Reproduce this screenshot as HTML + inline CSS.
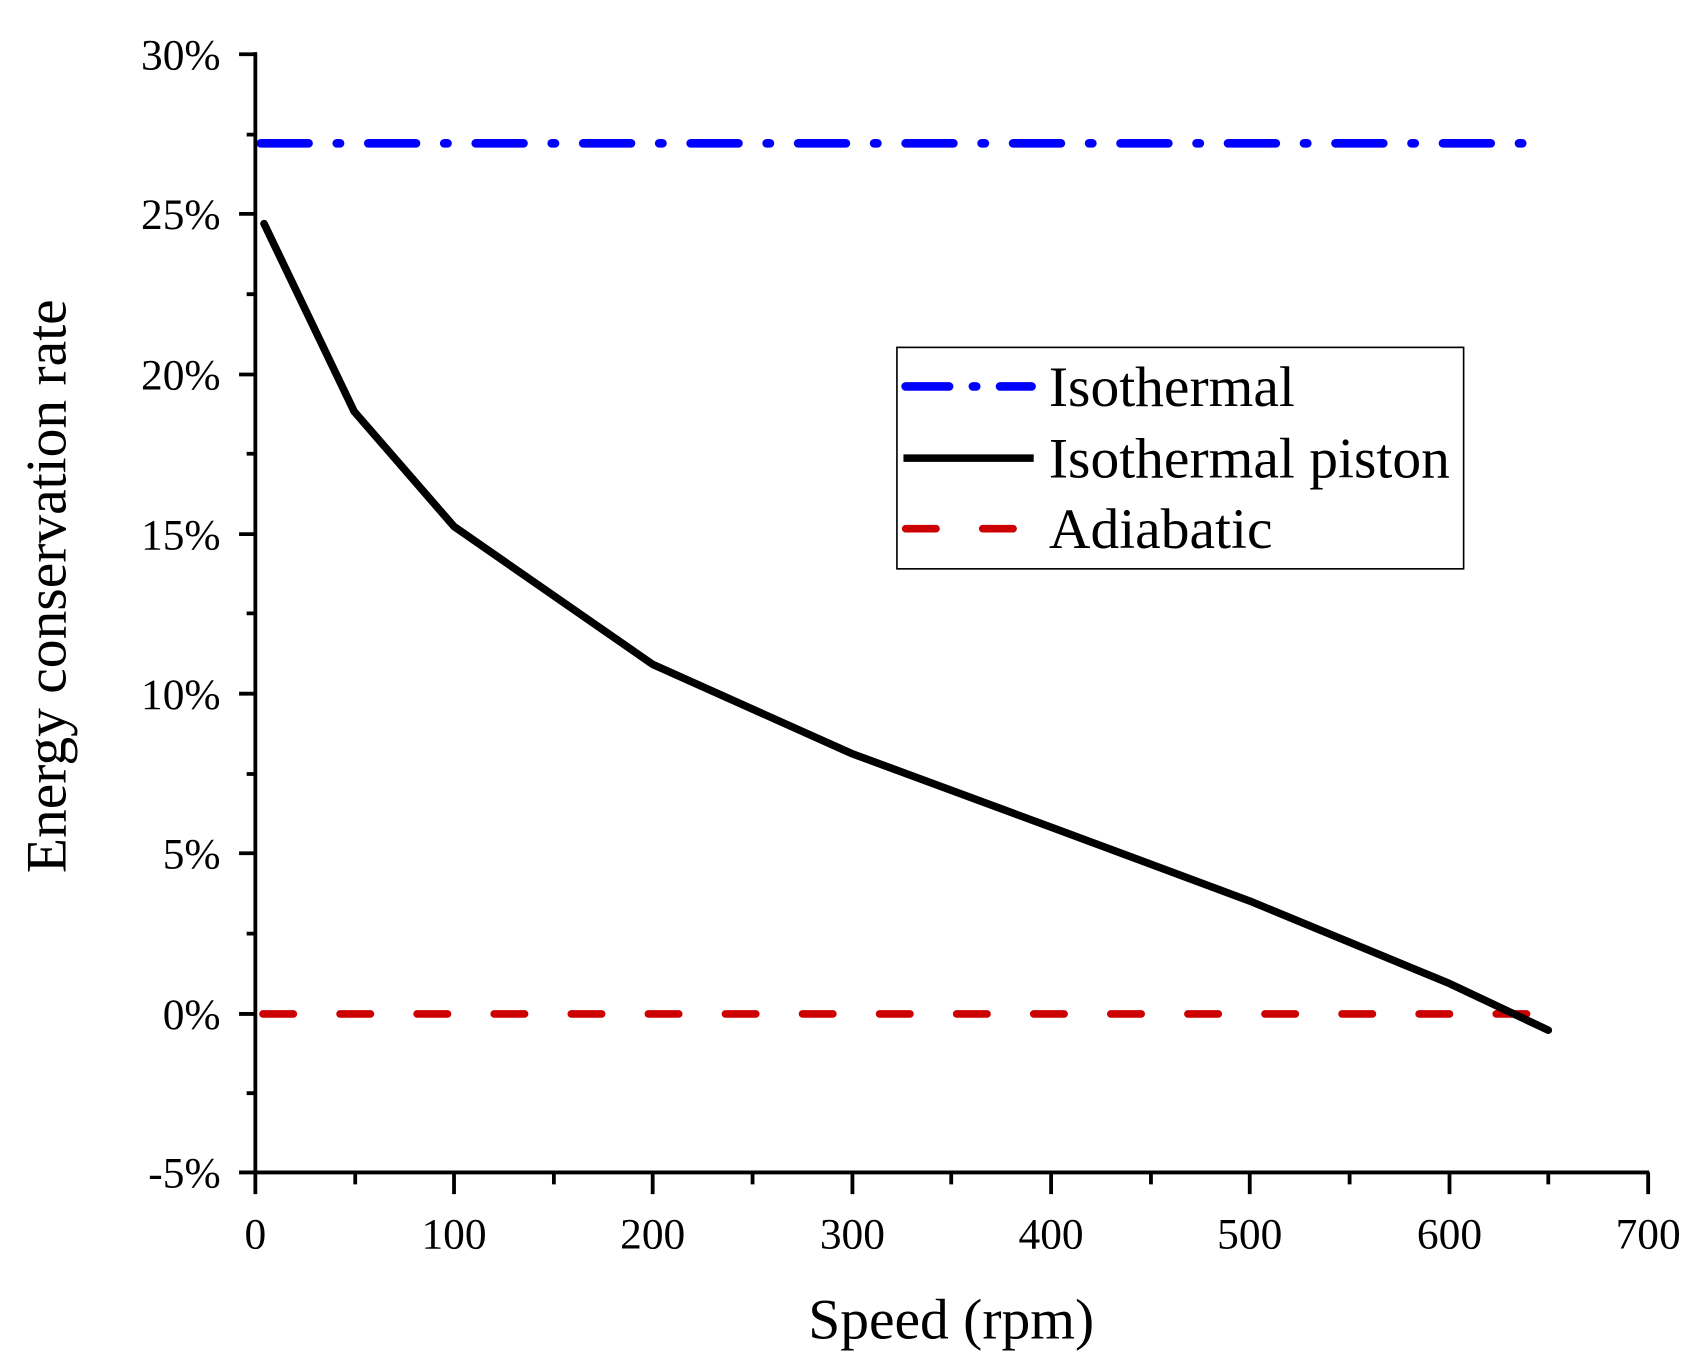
<!DOCTYPE html>
<html><head><style>html,body{margin:0;padding:0;background:#fff}svg{display:block}</style></head>
<body>
<svg width="1694" height="1370" viewBox="0 0 1560 1262" xmlns="http://www.w3.org/2000/svg" font-family="Liberation Serif, serif">
<rect width="1560" height="1262" fill="#fff"/>
<line x1="240" y1="132" x2="1428" y2="132" stroke="#0000ff" stroke-width="8" stroke-linecap="round" stroke-dasharray="44 26 3 26"/>
<line x1="242" y1="934" x2="1410" y2="934" stroke="#cc0000" stroke-width="7" stroke-linecap="round" stroke-dasharray="28 43"/>
<polyline fill="none" stroke="#000" stroke-width="7" stroke-linecap="round" stroke-linejoin="round"
 points="243,206 326,379 418,485 601,612 784,694 968,762 1151,830 1335,906 1426,949"/>
<g stroke="#000" stroke-width="3.5" fill="none">
<line x1="235" y1="48" x2="235" y2="1082"/>
<line x1="233" y1="1080" x2="1519" y2="1080"/>
<path d="M220 50H235M220 197H235M220 345H235M220 492H235M220 639H235M220 786H235M220 934H235M220 1080H235"/>
<path d="M227 124H235M227 271H235M227 418H235M227 565H235M227 713H235M227 860H235M227 1007H235"/>
<path d="M235 1080V1100M418 1080V1100M601 1080V1100M785 1080V1100M968 1080V1100M1151 1080V1100M1335 1080V1100M1518 1080V1100"/>
<path d="M327 1080V1091M510 1080V1091M693 1080V1091M876 1080V1091M1060 1080V1091M1243 1080V1091M1426 1080V1091"/>
</g>
<g font-size="40" fill="#000" text-anchor="end">
<text x="203" y="64">30%</text>
<text x="203" y="211">25%</text>
<text x="203" y="359">20%</text>
<text x="203" y="506">15%</text>
<text x="203" y="653">10%</text>
<text x="203" y="800">5%</text>
<text x="203" y="948">0%</text>
<text x="203" y="1094">-5%</text>
</g>
<g font-size="40" fill="#000" text-anchor="middle">
<text x="235" y="1150">0</text>
<text x="418" y="1150">100</text>
<text x="601" y="1150">200</text>
<text x="785" y="1150">300</text>
<text x="968" y="1150">400</text>
<text x="1151" y="1150">500</text>
<text x="1335" y="1150">600</text>
<text x="1518" y="1150">700</text>
</g>
<text x="876" y="1233" font-size="53" text-anchor="middle">Speed (rpm)</text>
<text transform="translate(60,540) rotate(-90)" font-size="53" text-anchor="middle">Energy conservation rate</text>
<rect x="826" y="320" width="522" height="204" fill="#fff" stroke="#000" stroke-width="1.5"/>
<line x1="834" y1="356" x2="950" y2="356" stroke="#0000ff" stroke-width="8" stroke-linecap="round" stroke-dasharray="40 22 3 22"/>
<line x1="832" y1="422" x2="952" y2="422" stroke="#000" stroke-width="7"/>
<line x1="834" y1="487" x2="950" y2="487" stroke="#cc0000" stroke-width="7" stroke-linecap="round" stroke-dasharray="28 43"/>
<g font-size="53" fill="#000">
<text x="966" y="374">Isothermal</text>
<text x="966" y="440">Isothermal piston</text>
<text x="966" y="505">Adiabatic</text>
</g>
</svg>
</body></html>
